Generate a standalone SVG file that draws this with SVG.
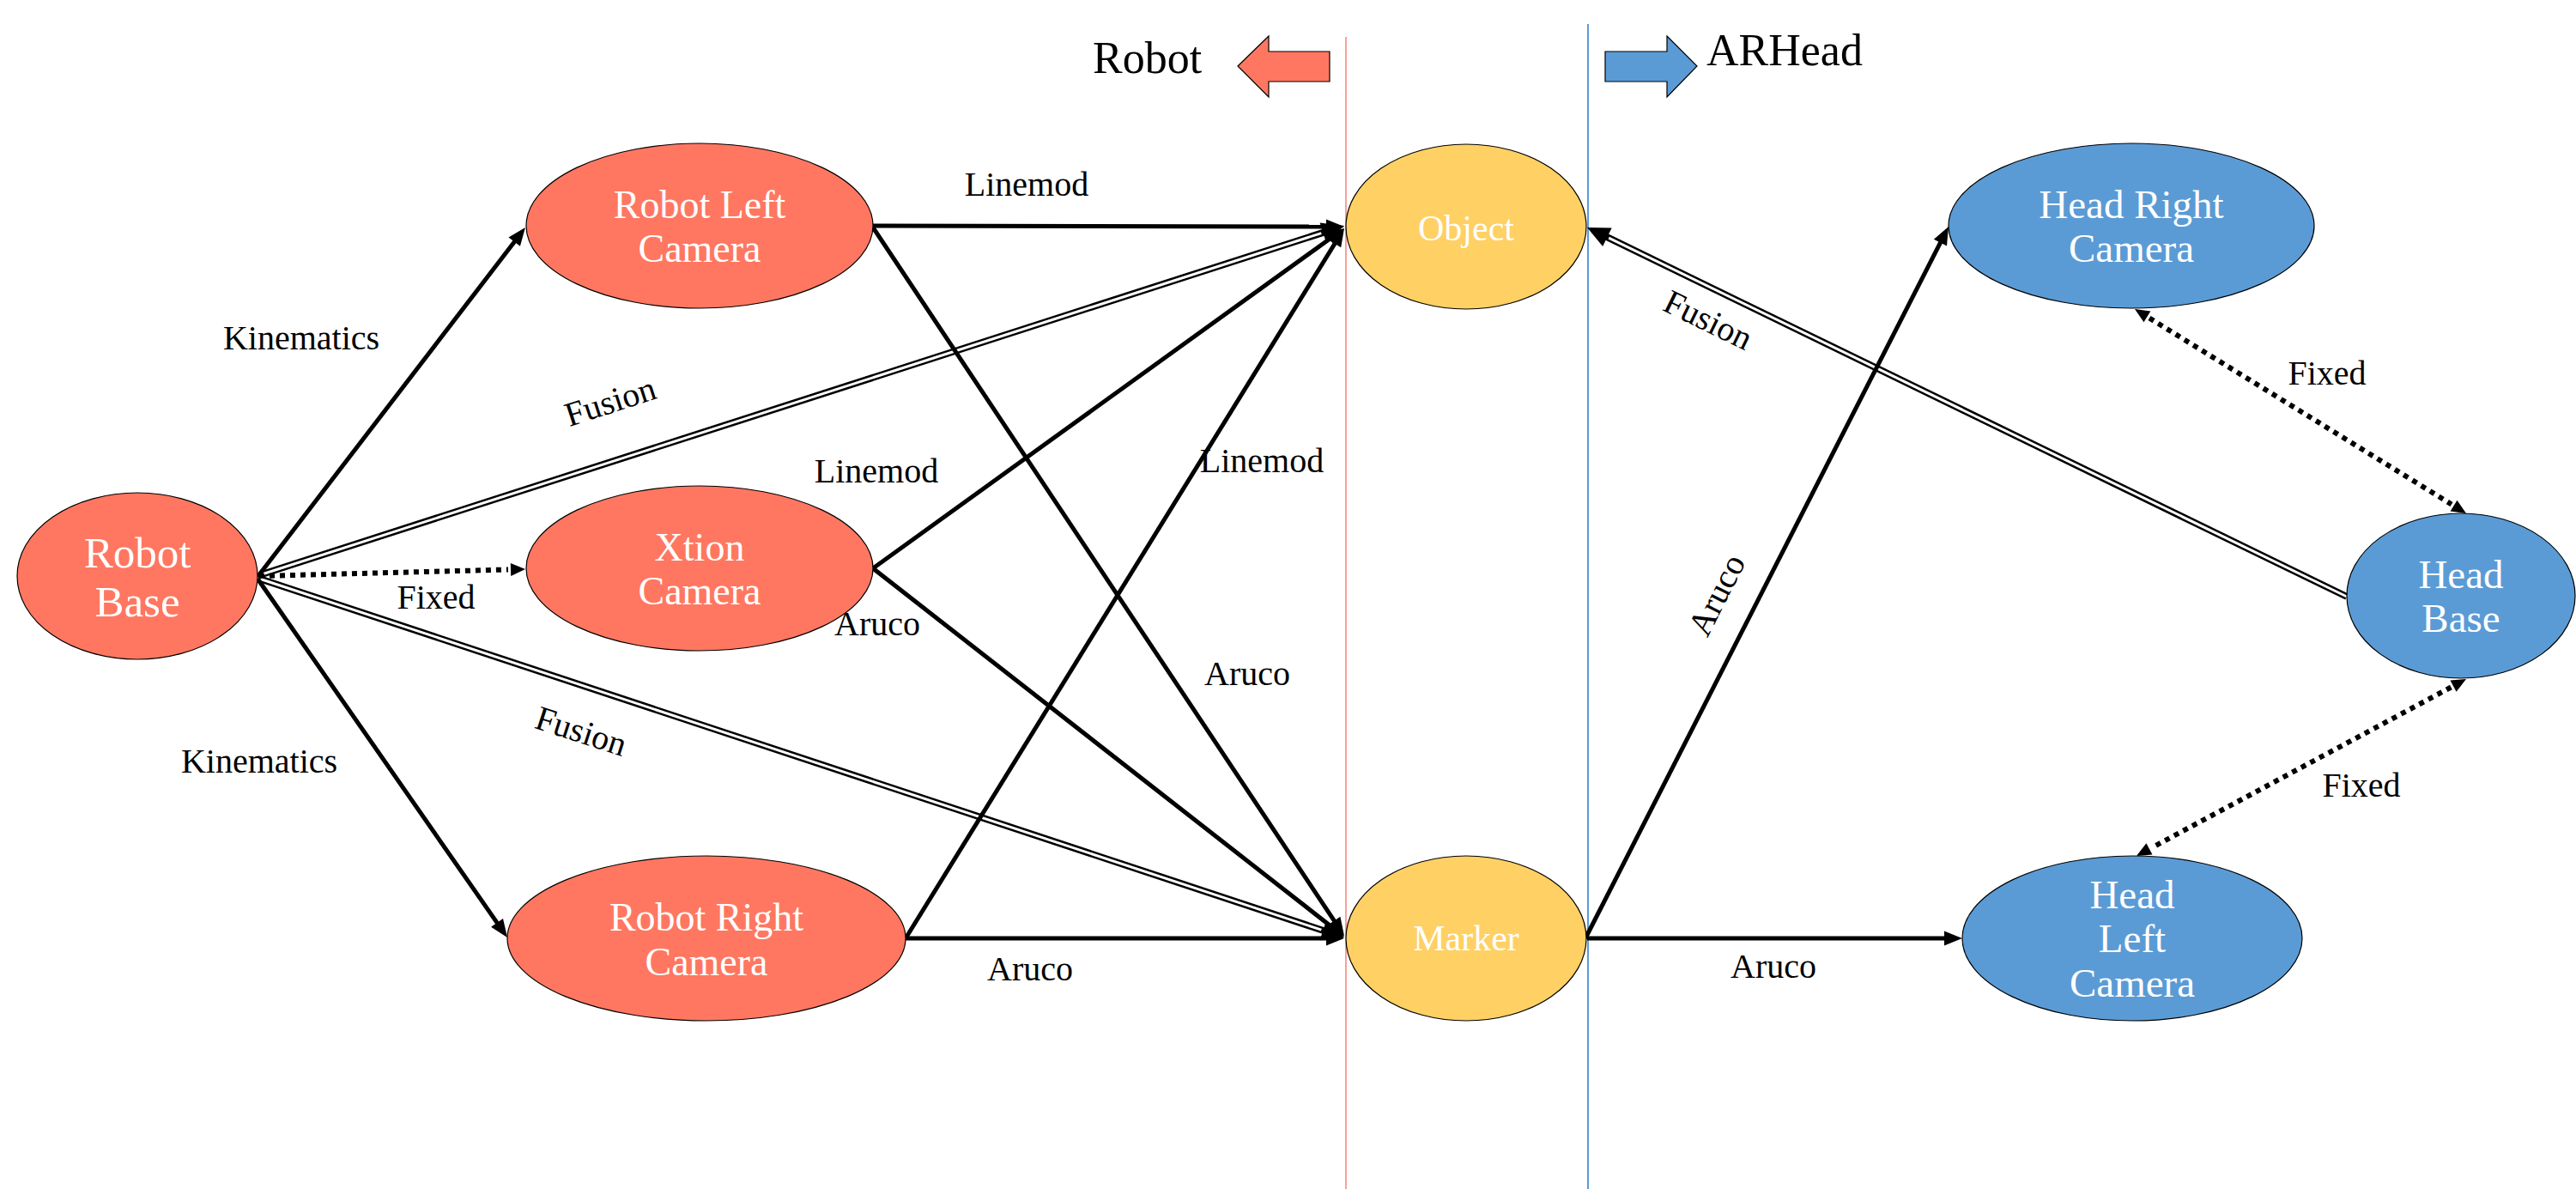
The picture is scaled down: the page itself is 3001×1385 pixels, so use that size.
<svg xmlns="http://www.w3.org/2000/svg" width="3001" height="1385" viewBox="0 0 3001 1385">
<style>
  .bg { fill: #ffffff; }
  .robot { fill: #FF7761; stroke: #000; stroke-width: 1.2; }
  .target { fill: #FFD064; stroke: #000; stroke-width: 1.2; }
  .head { fill: #5B9BD5; stroke: #000; stroke-width: 1.2; }
  .ntext { font-family: "Liberation Serif", "Times New Roman", serif; fill: #ffffff; text-anchor: middle; }
  .elabel { font-family: "Liberation Serif", "Times New Roman", serif; fill: #000; font-size: 40px; text-anchor: middle; }
  .title { font-family: "Liberation Serif", "Times New Roman", serif; fill: #000; font-size: 52px; }
  .solid { stroke: #000; stroke-width: 5; fill: none; marker-end: url(#arr); }
  .dbl { stroke: #000; stroke-width: 8; fill: none; marker-end: url(#arrBig); }
  .dblw { stroke: #fff; stroke-width: 3; fill: none; }
  .dot { stroke: #000; stroke-width: 6; stroke-dasharray: 6 6; fill: none; }
</style>
<defs>
  <marker id="arr" markerUnits="userSpaceOnUse" viewBox="-2 -10 24 20" markerWidth="24" markerHeight="20" refX="0" refY="0" orient="auto">
    <path d="M-1,-8.5 L20,0 L-1,8.5 z" fill="#000"/>
  </marker>
  <marker id="arrBig" markerUnits="userSpaceOnUse" viewBox="-8 -13 30 26" markerWidth="30" markerHeight="26" refX="0" refY="0" orient="auto">
    <path d="M-6,-12 L20,0 L-6,12 z" fill="#000"/>
  </marker>
  <marker id="arrDot" markerUnits="userSpaceOnUse" viewBox="0 -9 22 18" markerWidth="22" markerHeight="18" refX="0" refY="0" orient="auto-start-reverse">
    <path d="M3,-7.5 L20,0 L3,7.5 z" fill="#000"/>
  </marker>
</defs>
<rect class="bg" x="0" y="0" width="3001" height="1385"/>

<g id="header">
  <line x1="1568" y1="43" x2="1568" y2="1385" stroke="#F4A29A" stroke-width="2"/>
  <line x1="1850" y1="28" x2="1850" y2="1385" stroke="#5B9BD5" stroke-width="2"/>
  <polygon points="1442,77 1478,42 1478,60 1549,60 1549,95 1478,95 1478,113" fill="#FF7761" stroke="#000" stroke-width="1.2"/>
  <polygon points="1870,60 1942,60 1942,42 1977,77 1942,113 1942,95 1870,95" fill="#5B9BD5" stroke="#000" stroke-width="1.2"/>
  <text class="title" x="1273" y="85">Robot</text>
  <text class="title" x="1988" y="76">ARHead</text>
</g>

<g id="connectors">
  <!-- double lines (Fusion) -->
  <line class="dbl" x1="302" y1="670" x2="1547" y2="269.1"/>
  <line class="dblw" x1="302" y1="670" x2="1539.3" y2="271.6"/>
  <line class="dbl" x1="302" y1="674" x2="1547" y2="1085.7"/>
  <line class="dblw" x1="302" y1="674" x2="1539.4" y2="1083.2"/>
  <line class="dbl" x1="2734" y1="695" x2="1867" y2="273.7"/>
  <line class="dblw" x1="2734" y1="695" x2="1874.2" y2="277.2"/>
  <!-- solid -->
  <line class="solid" x1="300" y1="672" x2="599.8" y2="280.9"/>
  <line class="solid" x1="300" y1="674" x2="579.6" y2="1075.6"/>
  <line class="solid" x1="1017" y1="263" x2="1546" y2="264"/>
  <line class="solid" x1="1017" y1="265" x2="1554.9" y2="1073.4"/>
  <line class="solid" x1="1017" y1="662" x2="1549.8" y2="277.7"/>
  <line class="solid" x1="1017" y1="662" x2="1550.2" y2="1078.7"/>
  <line class="solid" x1="1055" y1="1093" x2="1555.5" y2="283"/>
  <line class="solid" x1="1055" y1="1093" x2="1546" y2="1093"/>
  <line class="solid" x1="1847" y1="1093" x2="2260.9" y2="281.8"/>
  <line class="solid" x1="1849" y1="1093" x2="2266" y2="1093"/>
  <!-- dotted (Fixed) -->
  <line class="dot" x1="302" y1="671" x2="592" y2="663.5" marker-end="url(#arrDot)"/>
  <line class="dot" x1="2504" y1="370.5" x2="2856" y2="587.5" marker-start="url(#arrDot)" marker-end="url(#arrDot)"/>
  <line class="dot" x1="2855.4" y1="800.5" x2="2506.6" y2="987.5" marker-start="url(#arrDot)" marker-end="url(#arrDot)"/>
</g>

<g id="robot-base">
  <ellipse class="robot" cx="160" cy="671" rx="140" ry="97"/>
  <text class="ntext" font-size="51" x="160" y="661">Robot</text>
  <text class="ntext" font-size="51" x="160" y="718">Base</text>
</g>
<g id="robot-left-camera">
  <ellipse class="robot" cx="815" cy="263" rx="202" ry="96"/>
  <text class="ntext" font-size="46" x="815" y="254">Robot Left</text>
  <text class="ntext" font-size="46" x="815" y="305">Camera</text>
</g>
<g id="xtion-camera">
  <ellipse class="robot" cx="815" cy="662" rx="202" ry="96"/>
  <text class="ntext" font-size="46" x="815" y="653">Xtion</text>
  <text class="ntext" font-size="46" x="815" y="704">Camera</text>
</g>
<g id="robot-right-camera">
  <ellipse class="robot" cx="823" cy="1093" rx="232" ry="96"/>
  <text class="ntext" font-size="46" x="823" y="1084">Robot Right</text>
  <text class="ntext" font-size="46" x="823" y="1136">Camera</text>
</g>
<g id="object">
  <ellipse class="target" cx="1708" cy="264" rx="140" ry="96"/>
  <text class="ntext" font-size="42" x="1708" y="280">Object</text>
</g>
<g id="marker">
  <ellipse class="target" cx="1708" cy="1093" rx="140" ry="96"/>
  <text class="ntext" font-size="42" x="1708" y="1107">Marker</text>
</g>
<g id="head-right-camera">
  <ellipse class="head" cx="2483" cy="263" rx="213" ry="96"/>
  <text class="ntext" font-size="47" x="2483" y="254">Head Right</text>
  <text class="ntext" font-size="47" x="2483" y="305">Camera</text>
</g>
<g id="head-base">
  <ellipse class="head" cx="2867" cy="694" rx="133" ry="96"/>
  <text class="ntext" font-size="47" x="2867" y="685">Head</text>
  <text class="ntext" font-size="47" x="2867" y="736">Base</text>
</g>
<g id="head-left-camera">
  <ellipse class="head" cx="2484" cy="1093" rx="198" ry="96"/>
  <text class="ntext" font-size="47" x="2484" y="1058">Head</text>
  <text class="ntext" font-size="47" x="2484" y="1109">Left</text>
  <text class="ntext" font-size="47" x="2484" y="1161">Camera</text>
</g>

<g id="edge-labels">
  <text class="elabel" x="351" y="407">Kinematics</text>
  <text class="elabel" x="302" y="900">Kinematics</text>
  <text class="elabel" transform="translate(711,468) rotate(-18)" x="0" y="13">Fusion</text>
  <text class="elabel" transform="translate(677,852) rotate(18)" x="0" y="13">Fusion</text>
  <text class="elabel" x="1196" y="228">Linemod</text>
  <text class="elabel" x="1021" y="562">Linemod</text>
  <text class="elabel" x="1470" y="550">Linemod</text>
  <text class="elabel" x="508" y="709">Fixed</text>
  <text class="elabel" x="1022" y="740">Aruco</text>
  <text class="elabel" x="1453" y="798">Aruco</text>
  <text class="elabel" x="1200" y="1142">Aruco</text>
  <text class="elabel" transform="translate(1990,373) rotate(26)" x="0" y="13">Fusion</text>
  <text class="elabel" transform="translate(2000,693) rotate(-63)" x="0" y="13">Aruco</text>
  <text class="elabel" x="2711" y="448">Fixed</text>
  <text class="elabel" x="2751" y="928">Fixed</text>
  <text class="elabel" x="2066" y="1139">Aruco</text>
</g>
</svg>
